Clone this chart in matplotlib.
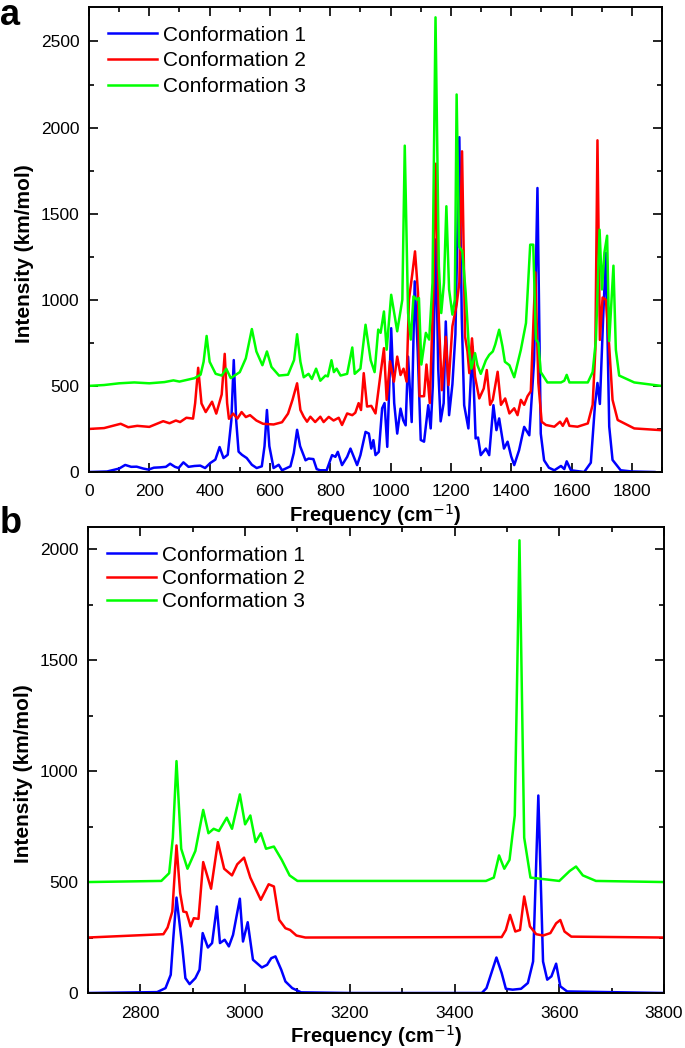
import matplotlib
matplotlib.use("Agg")
import matplotlib.pyplot as plt
from matplotlib.ticker import MultipleLocator

plt.rcParams['font.family'] = ['Liberation Sans', 'DejaVu Sans']

labels = ["Conformation 1", "Conformation 2", "Conformation 3"]
colors = ["#0000ff", "#ff0000", "#00ff00"]

# panel a: 0 - 1900 cm-1
a_freq1 = [0, 60, 100, 120, 140, 158, 180, 197, 215, 236, 255, 269, 285, 297, 313, 330, 350, 369, 385, 402,
           419, 433, 446, 460, 472, 480, 488, 496, 507, 523, 540, 556, 573, 582, 590, 598, 612, 629, 640, 668,
           679, 690, 700, 718, 728, 744, 755, 766, 788, 806, 817, 825, 839, 856, 867, 878, 889, 900, 917, 928,
           936, 943, 950, 961, 972, 980, 989, 1002, 1012, 1022, 1033, 1042, 1050, 1058, 1070, 1080, 1090, 1100,
           1111, 1125, 1133, 1140, 1150, 1158, 1166, 1176, 1183, 1194, 1205, 1215, 1228, 1236, 1244, 1258, 1271,
           1282, 1290, 1299, 1316, 1327, 1341, 1351, 1360, 1376, 1388, 1400, 1410, 1426, 1443, 1460, 1476, 1487,
           1498, 1509, 1525, 1543, 1565, 1576, 1584, 1598, 1642, 1664, 1678, 1686, 1694, 1705, 1714, 1725, 1736,
           1763, 1800, 1875]
a_int1 = [0, 3, 20, 41, 30, 31, 20, 14, 25, 27, 30, 48, 30, 23, 56, 30, 35, 37, 23, 52,
          72, 145, 81, 100, 300, 650, 300, 118, 100, 81, 42, 23, 33, 150, 360, 150, 23, 42, 10, 33,
          110, 245, 150, 68, 78, 75, 17, 10, 10, 98, 88, 117, 40, 88, 136, 88, 40, 98, 233, 223,
          136, 185, 98, 117, 370, 400, 146, 835, 400, 223, 368, 300, 271, 670, 290, 1107, 700, 186,
          176, 388, 253, 500, 1350, 600, 294, 400, 874, 330, 509, 800, 1944, 900, 388, 253, 728,
          195, 200, 98, 136, 98, 388, 243, 311, 136, 176, 90, 40, 126, 262, 213, 650, 1649,
          223, 68, 25, 10, 35, 17, 62, 10, 0, 54, 395, 517, 395, 900, 1272, 264, 70,
          10, 3, 0]

a_freq2 = [0, 50, 105, 130, 160, 200, 246, 267, 288, 302, 323, 345, 352, 362, 373, 387, 408, 422, 440, 450,
           458, 464, 478, 492, 506, 520, 534, 555, 577, 612, 640, 660, 675, 690, 701, 712, 723, 734, 750, 767,
           778, 795, 811, 828, 839, 856, 873, 883, 894, 902, 911, 922, 936, 950, 967, 978, 987, 998, 1011, 1022,
           1033, 1043, 1053, 1061, 1072, 1081, 1091, 1096, 1111, 1119, 1130, 1142, 1150, 1160, 1170, 1183, 1192,
           1205, 1219, 1228, 1237, 1247, 1255, 1261, 1270, 1280, 1294, 1309, 1319, 1330, 1339, 1355, 1366, 1380,
           1394, 1410, 1421, 1432, 1443, 1454, 1465, 1480, 1490, 1501, 1515, 1543, 1562, 1571, 1584, 1593, 1620,
           1654, 1670, 1679, 1686, 1694, 1703, 1714, 1725, 1736, 1753, 1808, 1897]
a_int2 = [250, 255, 280, 260, 268, 262, 295, 283, 299, 290, 315, 310, 400, 605, 398, 348, 408, 339, 450, 686,
          400, 309, 339, 310, 348, 319, 330, 299, 280, 276, 289, 339, 420, 515, 360, 321, 292, 321, 290, 321,
          290, 320, 299, 315, 273, 340, 330, 344, 400, 360, 574, 380, 384, 340, 574, 719, 419, 643, 525, 670,
          563, 600, 525, 1001, 1150, 1281, 1041, 440, 440, 624, 400, 1060, 1790, 887, 475, 785, 505,
          846, 972, 1100, 1862, 785, 700, 574, 776, 554, 427, 485, 592, 390, 420, 582, 390, 427,
          340, 370, 330, 419, 390, 440, 469, 1159, 517, 292, 273, 263, 292, 268, 311, 268, 263,
          282, 390, 710, 1926, 767, 1013, 1000, 728, 419, 302, 253, 243]

a_freq3 = [0, 50, 100, 150, 200, 250, 280, 300, 350, 370, 380, 390, 400, 420, 440, 455, 470, 500, 520, 540,
           555, 575, 590, 605, 630, 660, 680, 690, 701, 712, 728, 739, 753, 767, 784, 792, 804, 812, 821, 834,
           856, 873, 881, 900, 917, 934, 947, 959, 967, 978, 987, 1002, 1022, 1039, 1047, 1058, 1067, 1076, 1087,
           1094, 1102, 1117, 1128, 1139, 1149, 1160, 1168, 1177, 1185, 1194, 1205, 1213, 1219, 1227, 1238, 1249,
           1260, 1268, 1280, 1288, 1299, 1316, 1327, 1339, 1347, 1360, 1371, 1379, 1394, 1410, 1432, 1449, 1463,
           1473, 1482, 1490, 1498, 1520, 1565, 1576, 1584, 1593, 1654, 1670, 1681, 1693, 1701, 1709, 1718, 1725,
           1739, 1747, 1758, 1808, 1897]
a_int3 = [500, 505, 515, 520, 515, 522, 532, 525, 545, 565, 640, 790, 640, 570, 560, 600, 545, 580, 660, 830,
          700, 620, 700, 610, 560, 565, 650, 800, 640, 550, 570, 540, 600, 530, 560, 555, 649, 580, 600, 560,
          570, 723, 570, 600, 855, 649, 580, 827, 808, 932, 710, 1029, 817, 1001, 1895, 923, 769, 1020, 1001,
          1010, 624, 808, 769, 1098, 2640, 1196, 923, 1098, 1543, 1060, 914, 1001, 2192, 1309, 1281, 1041,
          710, 600, 690, 620, 570, 649, 680, 700, 740, 826, 730, 640, 620, 550, 710, 865, 1320,
          1320, 769, 750, 580, 520, 520, 530, 564, 520, 520, 580, 769, 1407, 1060, 1274, 1372, 760,
          1198, 710, 560, 520, 500]

# panel b: 2700 - 3800 cm-1
b_freq1 = [2700, 2832, 2848, 2858, 2863, 2869, 2880, 2886, 2894, 2905, 2913, 2919, 2929, 2937, 2946, 2952,
           2961, 2969, 2977, 2990, 2996, 3005, 3015, 3032, 3042, 3050, 3058, 3069, 3077, 3090, 3107, 3200,
           3452, 3461, 3480, 3490, 3498, 3511, 3527, 3540, 3550, 3560, 3569, 3577, 3585, 3594, 3602, 3615, 3800]
b_int1 = [0, 4, 22, 82, 250, 430, 210, 67, 40, 67, 105, 270, 205, 225, 390, 225,
          240, 210, 262, 425, 232, 319, 150, 115, 127, 157, 165, 105, 52, 22, 3, 0,
          0, 22, 160, 90, 19, 15, 19, 45, 142, 890, 142, 60, 75, 132, 30, 7, 0]

b_freq2 = [2700, 2844, 2852, 2861, 2869, 2876, 2882, 2888, 2896, 2902, 2911, 2920, 2935, 2948, 2960, 2975,
           2985, 2998, 3010, 3030, 3045, 3055, 3065, 3077, 3086, 3098, 3115, 3490, 3498, 3506, 3516, 3525,
           3533, 3544, 3556, 3569, 3583, 3594, 3602, 3610, 3623, 3800]
b_int2 = [250, 265, 295, 367, 665, 450, 367, 364, 300, 337, 334, 590, 470, 680, 560, 530,
          580, 610, 520, 420, 490, 480, 330, 292, 284, 259, 250, 252, 284, 352, 277, 284,
          435, 300, 265, 259, 270, 314, 329, 277, 254, 250]

b_freq3 = [2700, 2840, 2855, 2862, 2869, 2878, 2890, 2905, 2920, 2930, 2940, 2950, 2965, 2975, 2990, 3000,
           3010, 3020, 3030, 3040, 3055, 3070, 3085, 3100, 3460, 3475, 3485, 3495, 3505, 3515, 3524, 3533,
           3545, 3600, 3620, 3632, 3645, 3670, 3800]
b_int3 = [500, 505, 540, 700, 1045, 650, 560, 640, 825, 720, 740, 730, 790, 740, 895, 760,
          800, 680, 720, 650, 660, 600, 530, 505, 505, 520, 620, 560, 600, 800, 2040, 700,
          520, 505, 550, 570, 530, 505, 500]


def style_axis(ax, xlim, ylim, xmaj, xmin):
    ax.set_xlim(*xlim)
    ax.set_ylim(*ylim)
    ax.xaxis.set_major_locator(MultipleLocator(xmaj))
    ax.xaxis.set_minor_locator(MultipleLocator(xmin))
    ax.yaxis.set_major_locator(MultipleLocator(500))
    ax.yaxis.set_minor_locator(MultipleLocator(250))
    ax.tick_params(which='both', direction='in', top=True, right=True, labelsize=12.5, width=1.2)
    ax.tick_params(which='major', length=6.5, pad=7)
    ax.tick_params(axis='x', which='major', pad=9)
    ax.tick_params(which='minor', length=3.5)
    for s in ax.spines.values():
        s.set_linewidth(1.4)
    ax.set_xlabel("Frequency (cm$^{-1}$)", fontsize=14.5, fontweight='bold', labelpad=2)
    ax.set_ylabel("Intensity (km/mol)", fontsize=15, fontweight='bold')
    ax.yaxis.set_label_coords(-0.096, 0.47)


fig = plt.figure(figsize=(6.85, 10.48), dpi=100)
ax1 = fig.add_axes([89 / 685, 1 - 472 / 1048, 573 / 685, 465 / 1048])
ax2 = fig.add_axes([88 / 685, 1 - 993 / 1048, 576 / 685, 466 / 1048])

ax1.plot(a_freq1, a_int1, color=colors[0], lw=1.8, label=labels[0])
ax1.plot(a_freq2, a_int2, color=colors[1], lw=1.8, label=labels[1])
ax1.plot(a_freq3, a_int3, color=colors[2], lw=1.8, label=labels[2])
style_axis(ax1, (0, 1900), (0, 2700), 200, 100)

ax2.plot(b_freq1, b_int1, color=colors[0], lw=1.8, label=labels[0])
ax2.plot(b_freq2, b_int2, color=colors[1], lw=1.8, label=labels[1])
ax2.plot(b_freq3, b_int3, color=colors[2], lw=1.8, label=labels[2])
style_axis(ax2, (2700, 3800), (0, 2100), 200, 100)

for ax, sp in ((ax1, 0.32), (ax2, 0.2)):
    ax.legend(loc='upper left', bbox_to_anchor=(0.033, 0.96), frameon=False, fontsize=15,
              handlelength=2.35, handletextpad=0.3, labelspacing=sp, borderpad=0, borderaxespad=0)

fig.text(0.0, 1 - 25 / 1048, "a", fontsize=26, fontweight='bold', va='baseline')
fig.text(0.0, 1 - 533 / 1048, "b", fontsize=26, fontweight='bold', va='baseline')

fig.savefig("out.png", dpi=100)
